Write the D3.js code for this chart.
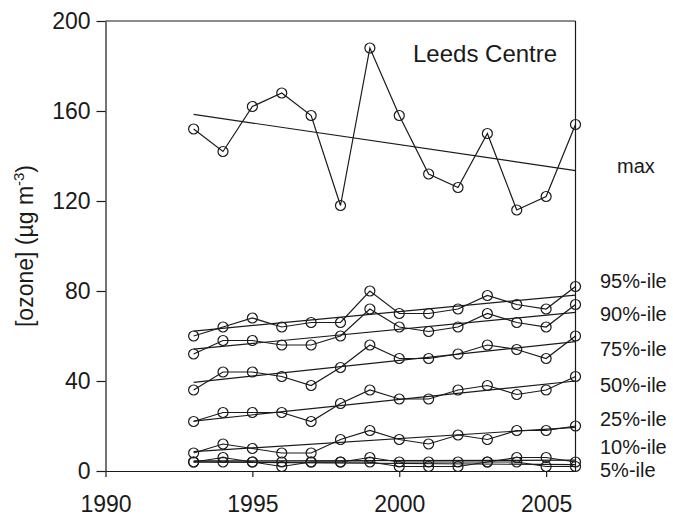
<!DOCTYPE html>
<html><head><meta charset="utf-8">
<script src="https://cdn.jsdelivr.net/npm/d3@7"></script>
<style>
html,body{margin:0;padding:0;background:#fff;}
svg{display:block;font-family:"Liberation Sans",Arial,Helvetica,sans-serif;}
</style></head>
<body><svg id="chart" width="673" height="518"></svg>
<script>
const years = [1993,1994,1995,1996,1997,1998,1999,2000,2001,2002,2003,2004,2005,2006];
const seriesNames = ["max","95%-ile","90%-ile","75%-ile","50%-ile","25%-ile","10%-ile","5%-ile"];
const maxVals = [152,142,162,168,158,118,188,158,132,126,150,116,122,154];
const p95 = [60,64,68,64,66,66,80,70,70,72,78,74,72,82];
const p90 = [52,58,58,56,56,60,72,64,62,64,70,66,64,74];
const p75 = [36,44,44,42,38,46,56,50,50,52,56,54,50,60];
const p50 = [22,26,26,26,22,30,36,32,32,36,38,34,36,42];
const p25 = [8,12,10,8,8,14,18,14,12,16,14,18,18,20];
const p10 = [4,6,4,4,4,4,6,4,4,4,4,6,6,4];
const p05 = [4,4,4,2,4,4,4,2,2,2,4,4,2,2];
// trend line values at first and last year
const trendStart = [158.5,62.2,54.2,39.4,22.2,8.6,4.5,4.0];
const trendEnd   = [133.5,78.2,70.5,57.5,40.0,19.4,4.8,2.8];
const labelY = [166,281,314,349,385,419,447,470]; // label anchor positions (pixels)
const yTicks = [0,40,80,120,160,200];
const xTicks = [1990,1995,2000,2005];
const title = "Leeds Centre";

const allVals = [maxVals,p95,p90,p75,p50,p25,p10,p05];

const svg = d3.select("#chart");
const x = d3.scaleLinear().domain([1990,2006]).range([105.5,575.5]);
const y = d3.scaleLinear().domain([0,200]).range([471,21]);
const ink = "#1a1a1a";

// frame
svg.append("line").attr("x1",x(1990)).attr("x2",x(2006)).attr("y1",y(200)).attr("y2",y(200)).attr("stroke",ink).attr("stroke-width",1.2);
svg.append("line").attr("x1",x(2006)).attr("x2",x(2006)).attr("y1",y(200)).attr("y2",y(0)).attr("stroke",ink).attr("stroke-width",1.2);

const xAxis = svg.append("g").attr("transform",`translate(0,${y(0)})`)
  .call(d3.axisBottom(x).tickValues(xTicks).tickFormat(d3.format("d")).tickSizeInner(6).tickSizeOuter(0).tickPadding(19));
const yAxis = svg.append("g").attr("transform",`translate(${x(1990)},0)`)
  .call(d3.axisLeft(y).tickValues(yTicks).tickSizeInner(9).tickSizeOuter(0).tickPadding(6));
[xAxis,yAxis].forEach(g=>{
  g.selectAll("path").attr("stroke",ink).attr("stroke-width",1.2);
  g.selectAll("line").attr("stroke",ink).attr("stroke-width",1.2);
  g.selectAll("text").attr("fill",ink).style("font-size","23px").style("font-family","'Liberation Sans',Arial,sans-serif");
});

// axis title
svg.append("text").attr("transform",`translate(33,${246}) rotate(-90)`).attr("text-anchor","middle")
  .attr("fill",ink).style("font-size","23px")
  .html('[ozone] (µg m<tspan dy="-9" font-size="15px">-3</tspan><tspan dy="9">)</tspan>');

const line = d3.line().x((d,i)=>x(years[i])).y(d=>y(d));
const plot = svg.append("g");
allVals.forEach((vals,k)=>{
  plot.append("path").datum(vals).attr("d",line).attr("fill","none").attr("stroke",ink).attr("stroke-width",1.2);
  plot.append("line").attr("x1",x(years[0])).attr("x2",x(years[years.length-1]))
    .attr("y1",y(trendStart[k])).attr("y2",y(trendEnd[k])).attr("stroke",ink).attr("stroke-width",1.2);
  plot.selectAll(null).data(vals).enter().append("circle")
    .attr("cx",(d,i)=>x(years[i])).attr("cy",d=>y(d)).attr("r",5)
    .attr("fill","none").attr("stroke",ink).attr("stroke-width",1.2);
});

// series labels
svg.selectAll(".lbl").data(seriesNames).enter().append("text")
  .attr("x",(d,i)=> i===0 ? 617 : 600).attr("y",(d,i)=>labelY[i]).attr("dy","0.35em")
  .attr("fill",ink).style("font-size","20px").text(d=>d);

svg.append("text").attr("x",413).attr("y",62).attr("fill",ink).style("font-size","24px").text(title);
</script></body></html>
